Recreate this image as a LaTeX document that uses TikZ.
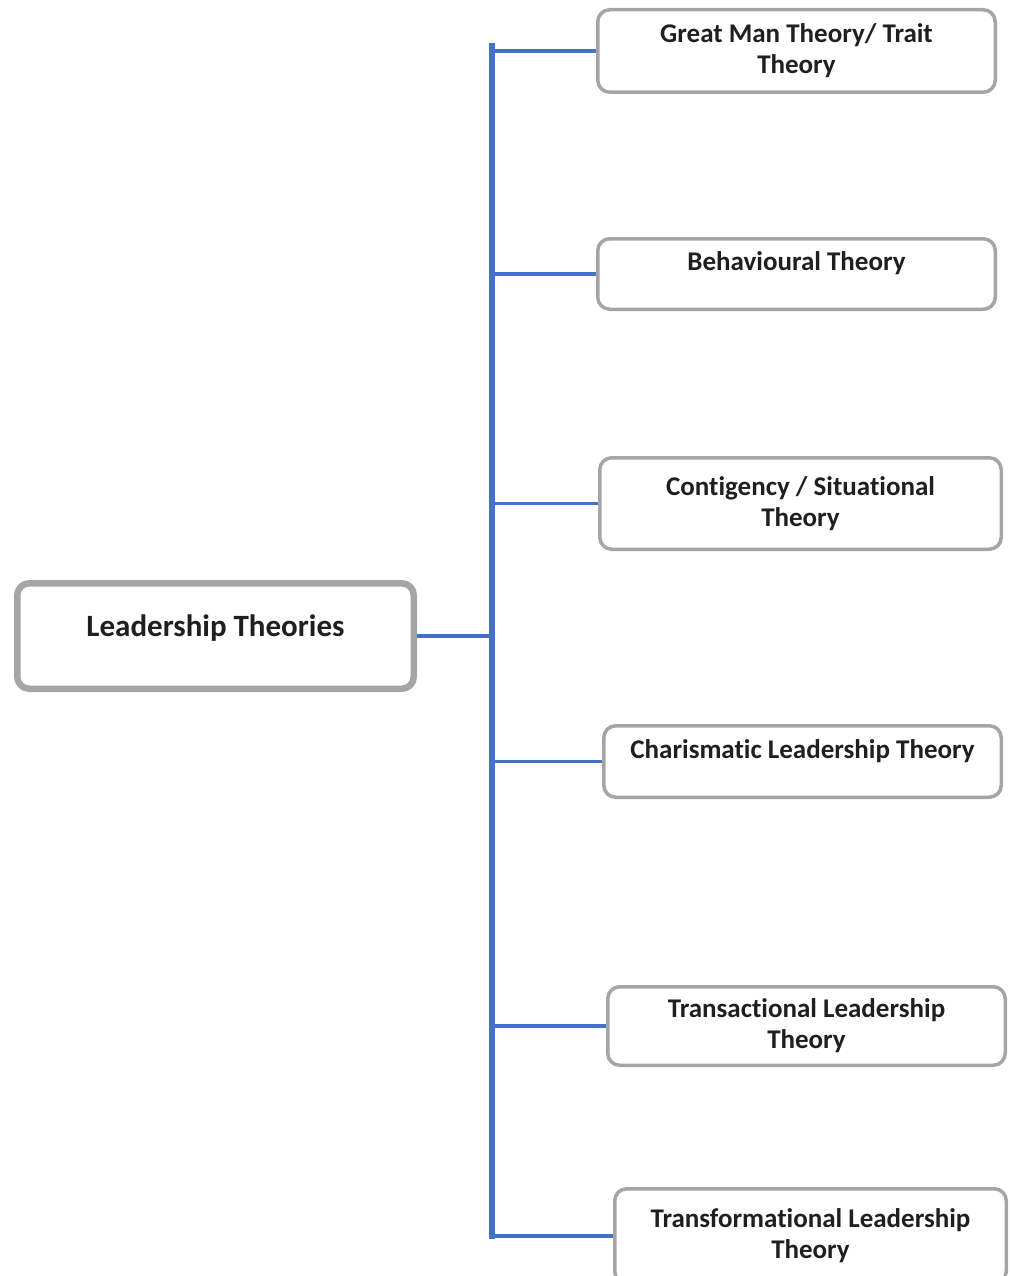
\documentclass[tikz,border=0pt]{standalone}
\usepackage{fontspec}
\setmainfont{Carlito}[Ligatures=NoCommon]
\definecolor{linkblue}{HTML}{4472C4}
\definecolor{boxgray}{HTML}{A5A5A5}
\begin{document}
\begin{tikzpicture}[x=1pt,y=-1pt,line join=round,
	leaf/.style={draw=boxgray,line width=3.5pt,rounded corners=12pt,fill=white,align=center,text=black!88,
		font=\fontsize{27}{31}\selectfont\bfseries},
	oneline/.style={text height=19pt,text depth=26pt},
	root/.style={leaf,line width=6.5pt,font=\fontsize{31}{35}\selectfont\bfseries},
	spine/.style={draw=linkblue,line width=5.5pt,line cap=rect},
	twig/.style={draw=linkblue,line width=3.5pt}]
	% Rahmen
	\useasboundingbox (0,0) rectangle (1009,1276);
	% Wurzel
	\node [root,minimum width=396.5pt,minimum height=105.5pt,text height=22pt,text depth=22pt] (lead) at (215.5,636) {Leadership Theories};
	% Theorien
	\node [leaf,minimum width=397.5pt,minimum height=82.5pt] (great) at (796.5,51) {Great Man Theory/ Trait\\Theory};
	\node [leaf,oneline,minimum width=397.5pt,minimum height=70.5pt] (behav) at (796.5,274) {Behavioural Theory};
	\node [leaf,minimum width=401.5pt,minimum height=91.5pt] (conting) at (800.5,503.5) {Contigency / Situational\\Theory};
	\node [leaf,oneline,minimum width=397.5pt,minimum height=71.5pt] (charis) at (802.5,761.5) {Charismatic Leadership Theory};
	\node [leaf,minimum width=397.5pt,minimum height=78.5pt] (transac) at (806.5,1026) {Transactional Leadership\\Theory};
	\node [leaf,minimum width=391.5pt,minimum height=94.5pt] (transf) at (810.5,1236) {Transformational Leadership\\Theory};
	% Verbindungen
	\coordinate (top) at (492,46);
	\draw [spine] (top) -- (top |- transf.west);
	\draw [twig] (lead.east) -- (lead.east -| top);
	\draw [twig] (top |- great.west) -- (great.west);
	\draw [twig] (top |- behav.west) -- (behav.west);
	\draw [twig] (top |- conting.west) -- (conting.west);
	\draw [twig] (top |- charis.west) -- (charis.west);
	\draw [twig] (top |- transac.west) -- (transac.west);
	\draw [twig] (top |- transf.west) -- (transf.west);
\end{tikzpicture}
\end{document}
